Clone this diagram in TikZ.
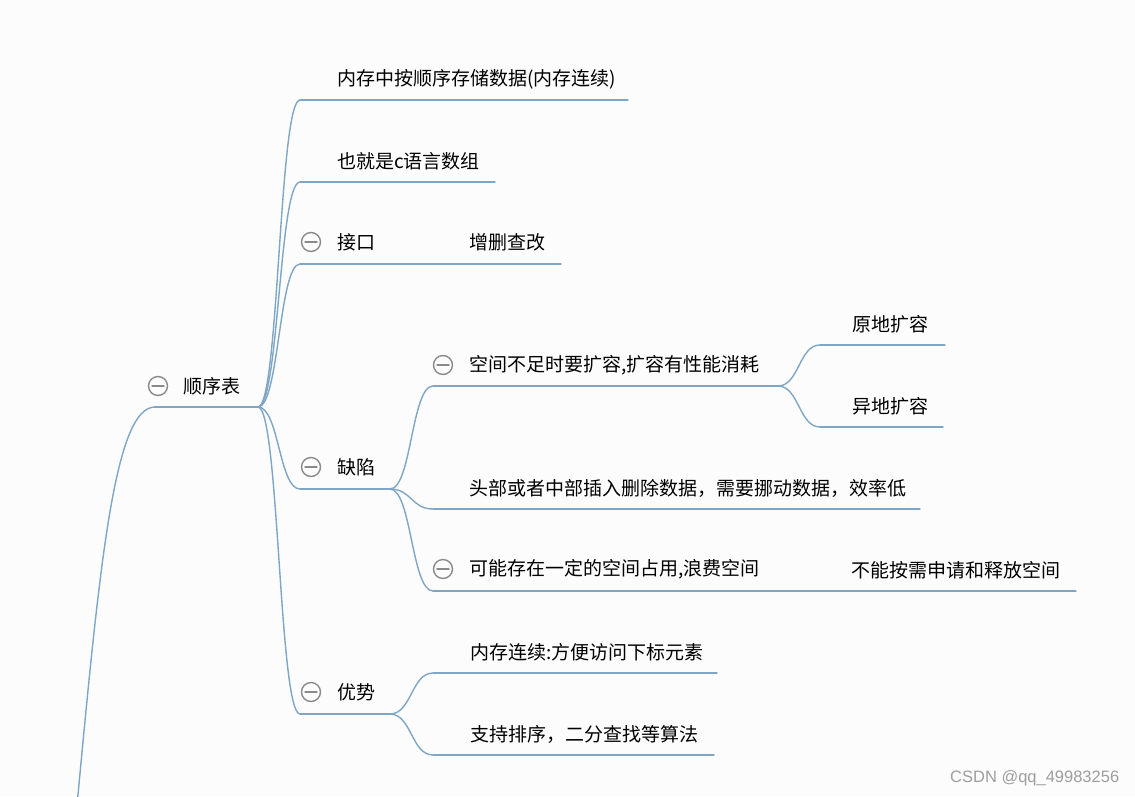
\documentclass[tikz,border=0pt]{standalone}
\usepackage{fontspec}
\setmainfont{Noto Sans CJK SC}
\newfontfamily\markfont{Liberation Sans}
\usetikzlibrary{calc}

\definecolor{branchblue}{HTML}{7FA6C4}
\definecolor{foldgray}{HTML}{8A8A8A}
\definecolor{paper}{HTML}{FCFCFC}

\tikzset{
  topic/.style={anchor=west,inner sep=0pt,font=\fontsize{19}{23}\selectfont},
  branch/.style={draw=branchblue,line width=1.4pt},
  fold/.style={circle,draw=foldgray,line width=1.4pt,fill=paper,
    minimum size=19pt,inner sep=0pt,
    path picture={\draw[foldgray,line width=1.4pt]
      ($(path picture bounding box.west)+(3.5pt,0)$) --
      ($(path picture bounding box.east)+(-3.5pt,0)$);}},
}

\begin{document}
\begin{tikzpicture}[x=1pt,y=-1pt,line cap=round,line join=round]
  \useasboundingbox[fill=paper] (0,0) rectangle (1135,796);
  % Underline ends of every topic (a = start, b = end).
  \coordinate (tail) at (77.5,800);
  \coordinate (root-a) at (155,407);   \coordinate (root-b) at (258,407);
  \coordinate (mem-a) at (300,100);    \coordinate (mem-b) at (628,100);
  \coordinate (carr-a) at (300,182);   \coordinate (carr-b) at (495,182);
  \coordinate (api-a) at (300,264);    \coordinate (api-b) at (390,264);
  \coordinate (crud-a) at (390,264);   \coordinate (crud-b) at (561,264);
  \coordinate (flaw-a) at (300,489);   \coordinate (flaw-b) at (390,489);
  \coordinate (grow-a) at (433,386);   \coordinate (grow-b) at (778,386);
  \coordinate (inplace-a) at (820,345); \coordinate (inplace-b) at (945,345);
  \coordinate (move-a) at (820,427);   \coordinate (move-b) at (943,427);
  \coordinate (shift-a) at (433,509);  \coordinate (shift-b) at (920,509);
  \coordinate (waste-a) at (433,591);  \coordinate (waste-b) at (778,591);
  \coordinate (alloc-a) at (778,591);  \coordinate (alloc-b) at (1076,591);
  \coordinate (merit-a) at (300,714);  \coordinate (merit-b) at (390,714);
  \coordinate (access-a) at (433,673); \coordinate (access-b) at (717,673);
  \coordinate (sort-a) at (433,755);   \coordinate (sort-b) at (714,755);
  % Topic texts.
  \node[topic] (root) at (183,386) {顺序表};
  \node[topic] (mem) at (337,79) {内存中按顺序存储数据(内存连续)};
  \node[topic] (carr) at (337,161) {也就是c语言数组};
  \node[topic] (api) at (337,242) {接口};
  \node[topic] (crud) at (469,242) {增删查改};
  \node[topic] (flaw) at (337,467) {缺陷};
  \node[topic] (grow) at (469,365) {空间不足时要扩容,扩容有性能消耗};
  \node[topic] (inplace) at (852,324) {原地扩容};
  \node[topic] (move) at (852,406) {异地扩容};
  \node[topic] (shift) at (469,488) {头部或者中部插入删除数据，需要挪动数据，效率低};
  \node[topic] (waste) at (469,569) {可能存在一定的空间占用,浪费空间};
  \node[topic] (alloc) at (851,570) {不能按需申请和释放空间};
  \node[topic] (merit) at (337,692) {优势};
  \node[topic] (access) at (470,652) {内存连续:方便访问下标元素};
  \node[topic] (sort) at (470,734) {支持排序，二分查找等算法};
  % Fold marks in front of topics with children.
  \node[fold] (root-f) at (158,386) {};
  \node[fold] (api-f) at (311,242) {};
  \node[fold] (flaw-f) at (311,467) {};
  \node[fold] (grow-f) at (443,365) {};
  \node[fold] (waste-f) at (443,569) {};
  \node[fold] (merit-f) at (311,692) {};
  % Underlines.
  \foreach \t in {root,mem,carr,api,crud,flaw,grow,inplace,move,shift,waste,alloc,merit,access,sort}
    \draw[branch] (\t-a) -- (\t-b);
  % Curved connectors from each parent to its children.
  \draw[branch] (tail) .. controls (100,560) and (115,407) .. (root-a);
  \foreach \p/\c in {root/mem,root/carr,root/api,root/flaw,root/merit,
      flaw/grow,flaw/shift,flaw/waste,grow/inplace,grow/move,
      merit/access,merit/sort}
    \draw[branch] (\p-b) .. controls ($(\p-b)!0.5!(\c-a |- \p-b)$)
      and ($(\c-a)!0.5!(\p-b |- \c-a)$) .. (\c-a);
  \node[anchor=west,inner sep=0pt,text=black!38,font=\markfont\fontsize{16.5}{18}\selectfont]
    (mark) at (950,778) {CSDN @qq\_49983256};
\end{tikzpicture}
\end{document}
